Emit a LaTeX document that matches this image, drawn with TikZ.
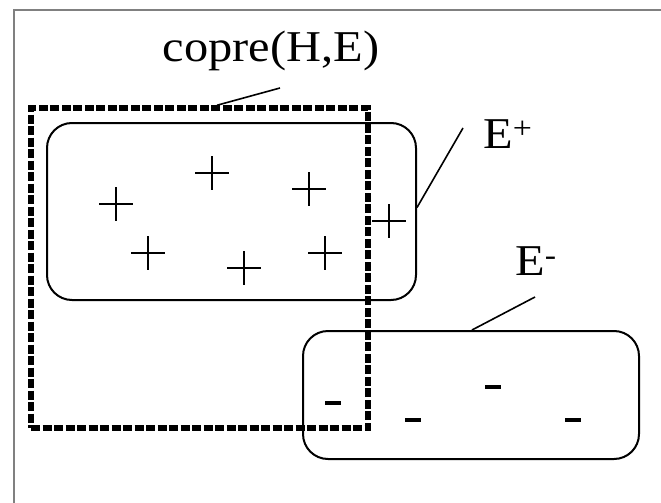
\documentclass[tikz,border=0pt]{standalone}
\usepackage{fontspec}
\setmainfont{Liberation Serif}[FakeStretch=1.1]
\usetikzlibrary{positioning}

\tikzset{
    exset/.style={draw, line width=2pt, rounded corners=25pt, inner sep=0pt},
    hypbox/.style={draw, line width=5.5pt, dash pattern=on 9pt off 2.5pt, inner sep=0pt},
    pointer/.style={line width=1.6pt},
    plusmark/.style={line width=1.8pt},
    minusmark/.style={line width=3.8pt}
}

\begin{document}
\begin{tikzpicture}[x=1pt, y=-1pt, font=\fontsize{44}{48}\selectfont]
    \useasboundingbox (0,0) rectangle (661,503);

    % Outer frame
    \draw[gray, line width=2.5pt] (14,503) -- (14,10) -- (661,10);

    % Example sets
    \node[exset, minimum width=369pt, minimum height=177pt] (epos) at (231.5,211.5) {};
    \node[exset, minimum width=336pt, minimum height=128pt] (eneg) at (471,395) {};

    % Hypothesis coverage
    \node[hypbox, minimum width=337pt, minimum height=320pt] (hyp) at (199.5,268) {};

    % Positive examples
    \foreach \x/\y in {116/204, 212/173, 309/189, 148/253, 244/268, 325/253, 389/221}
        \draw[plusmark] (\x-17,\y) -- (\x+17,\y) (\x,\y-17) -- (\x,\y+17);

    % Negative examples
    \foreach \x/\y in {333/403, 413/420, 493/387, 573/420}
        \draw[minusmark] (\x-8,\y) -- (\x+8,\y);

    % Labels
    \node (copre) at (271,51) {copre(H,E)};
    \node[anchor=base west, inner sep=0pt] (eposlabel) at (483,148) {E\textsuperscript{+}};
    \node[anchor=base west, inner sep=0pt] (eneglabel) at (515,275) {E\textsuperscript{-}};

    % Pointers
    \coordinate (copretip) at (280,88);
    \coordinate (epostip) at (463,128);
    \coordinate (enegtip) at (535,297);
    \draw[pointer] ([xshift=17.5pt]hyp.north) -- (copretip);
    \draw[pointer] ([yshift=4pt]epos.east) -- (epostip);
    \draw[pointer] ([xshift=1pt]eneg.north) -- (enegtip);
\end{tikzpicture}
\end{document}
